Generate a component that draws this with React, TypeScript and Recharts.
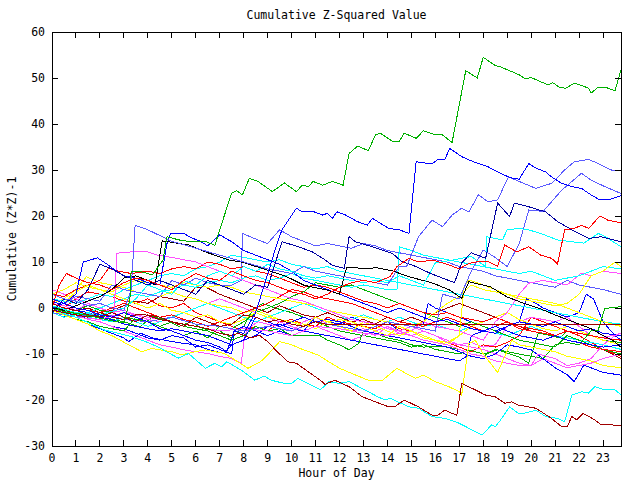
import React from "react";
import { LineChart, Line, XAxis, YAxis, ReferenceArea } from "recharts";

const TITLE = "Cumulative Z-Squared Value";
const X_LABEL = "Hour of Day";
const Y_LABEL = "Cumulative (Z*Z)-1";
const HOUR_TICKS = [0, 1, 2, 3, 4, 5, 6, 7, 8, 9, 10, 11, 12, 13, 14, 15, 16, 17, 18, 19, 20, 21, 22, 23];
const VALUE_TICKS = [-30, -20, -10, 0, 10, 20, 30, 40, 50, 60];
const X_DOMAIN: [number, number] = [0, 23.75];
const Y_DOMAIN: [number, number] = [-30, 60];

type P = [number, number];

const green1: P[] = [[0,0],[0.5,-0.8],[1,-1.2],[1.5,-1.6],[2,-2.2],[2.5,-2.8],[3,-3.2],[3.25,1.7],[3.3,7.9],[3.7,7.9],[4.2,7.2],[4.63,10.4],[4.8,15.5],[5.3,14.8],[5.8,14.4],[6.45,14.4],[6.8,13.6],[7,17],[7.5,25],[7.7,25.5],[7.95,24.6],[8.24,28.2],[8.6,27.5],[9.2,25.3],[9.7,27.2],[10.2,25.3],[10.45,26.7],[10.7,26.4],[10.9,27.5],[11.3,26.7],[11.7,27.5],[12.15,26.7],[12.4,33.6],[12.76,35.2],[13.2,34.2],[13.5,37.6],[13.7,38],[14.2,36.3],[14.5,36.3],[14.7,38],[15.2,36.9],[15.5,38.5],[15.9,37.8],[16.25,37.8],[16.7,36],[17.27,51.6],[17.75,50],[18,54.5],[18.5,52.7],[18.7,52.5],[19,51.8],[19.5,50.7],[19.75,49.8],[20,50.1],[20.7,48.5],[20.9,49],[21.2,47.9],[21.45,47.8],[21.8,48.9],[22.4,47.8],[22.5,46.7],[22.8,48],[23.15,47.9],[23.5,47.2],[23.75,51.8]];
const green2: P[] = [[0,-0.5],[0.5,-1.5],[1,-2.5],[1.5,-3],[2,-4],[2.5,-4.5],[3,-5],[3.5,-2],[4,-3],[4.5,-4],[5,-3],[5.5,-4],[6,-4.5],[6.5,-5],[7,-6],[7.5,-7],[8,-6],[8.5,-4],[9,-5],[9.5,-4.5],[10,-6],[10.5,-6],[11.15,-5.9],[11.5,-7],[12,-8],[12.4,-9.1],[12.8,-7.7],[13,-5],[13.5,-5.5],[14,-6.5],[14.5,-7],[15,-8],[15.5,-8.5],[16,-8.3],[16.5,-8.5],[17,-9],[17.5,-10],[18,-10.5],[18.5,-9],[19,-9.5],[19.5,-10],[20,-10.5],[20.5,-11],[21,-8],[21.5,-7.5],[22,-8],[22.5,-5],[22.8,-4.8],[23.07,-0.1],[23.75,0.3]];
const green3: P[] = [[0,0.5],[0.5,-0.5],[1,-1],[1.5,-2],[2,-1.5],[2.5,-2.5],[3,-3],[3.66,-4.1],[4.2,-1.9],[4.7,-2.5],[5.3,-4],[5.8,-3],[6.3,-4.5],[7,-5],[7.5,-6.5],[8,-4],[8.37,-0.4],[8.8,1],[9.3,0],[10,-1],[10.5,-2],[11,-3],[11.5,-4],[12,-5],[12.5,-5.5],[13,-6],[13.5,-6.5],[14,-7],[14.5,-7.5],[15,-8.5],[15.5,-8],[16,-9],[16.5,-9.5],[17,-10],[17.4,-9.1],[18,-10],[18.6,-9.1],[19.47,-10.6],[19.9,-12],[20.3,-5.4],[20.8,-6],[21.2,-6.5],[21.5,-5],[22,-5.5],[22.5,-6],[23,-7],[23.75,-7.5]];
const green4: P[] = [[0,1],[0.5,0],[1,-0.5],[1.5,0.5],[2,-0.5],[2.5,-1],[3,-2],[3.5,-2.5],[4,-3],[4.5,-4],[5,-5],[5.5,-6],[6,-5],[6.5,-6.5],[7,-4],[7.5,-4.5],[8,-3],[8.5,-1],[9,0],[9.5,1],[10,2.5],[10.5,3.5],[11,5.5],[11.5,5],[12,4.5],[12.5,5],[13,4],[13.5,3],[14,2],[14.5,1],[15,0],[15.5,-1],[16,-2],[16.5,-3],[17,-4],[17.5,-3],[18,-4],[18.5,-5],[19,-6],[19.5,-7],[20,-7.5],[20.5,-8],[21,-8.5],[21.5,-6],[22,-7],[22.5,-8],[23,-9],[23.75,-10]];

const blue1: P[] = [[0,2],[0.5,1],[1,0],[1.5,-0.5],[2,-1.5],[2.5,-2],[3,-1],[3.5,-2],[4,-3],[4.5,-4.5],[5,-5],[5.5,-6],[6,-7],[6.5,-7.5],[7,-8.5],[7.3,-9.5],[7.6,-5],[8,-5.5],[8.5,-1],[9.1,9],[9.35,13.3],[9.6,17],[10.2,21.7],[10.45,20.9],[10.94,20.9],[11.3,20.2],[11.5,20.6],[11.7,19.5],[11.9,20.9],[12.26,20.2],[12.74,18.8],[13.16,18],[13.37,19.5],[14.06,17.3],[14.5,17],[14.9,16.2],[15.2,31.8],[15.6,31.5],[15.86,31.3],[16.1,32.3],[16.4,32.3],[16.6,34.7],[17.1,32.9],[17.4,32.2],[17.8,31.4],[18.2,30.7],[18.6,29.6],[19.05,28.5],[19.26,28.2],[19.5,28],[19.9,31.4],[20.2,30.4],[20.6,29.6],[20.85,28.5],[21.27,27.1],[21.7,26.4],[22.1,26],[22.5,24.6],[22.87,23.5],[23.2,23.5],[23.75,24.4]];
const blue2: P[] = [[0,0],[0.5,1],[1,3],[1.3,10],[1.9,10.9],[2.3,9.5],[2.7,8],[3,7],[3.5,6.5],[4,5.5],[4.5,5],[4.8,14],[4.95,16.2],[5.5,16.2],[5.85,15.2],[6.2,14.5],[6.5,13.5],[7,15.9],[7.5,14.4],[8,12.5],[8.5,11.5],[9,10.5],[9.5,9.5],[10,8],[10.5,6],[11,5],[11.5,4],[12,3],[12.5,2],[13,1],[13.5,0],[14,-1],[14.5,0],[15,-1],[15.5,-2],[16,-3],[16.5,-2.5],[17,-3.5],[17.5,-4.5],[18,-5],[18.5,-4],[19,-5],[19.5,-6],[20,-6.5],[20.5,-7],[21,-6],[21.5,-7],[22,-7.5],[22.5,-8],[23,-8.5],[23.75,-8]];
const blue3: P[] = [[0,1.5],[0.5,0.5],[1,-0.5],[1.5,-1],[2,-2],[2.5,-2.5],[3,-3.5],[3.5,-4],[4,-4.5],[4.5,-5],[5,-4.5],[5.5,-5],[6,-5.5],[6.5,-6],[7,-7],[7.5,-8],[8,-7],[8.5,-2],[9,-3],[9.5,-4],[10,-3],[10.5,-2],[11,-3],[11.5,-2.5],[12,-3],[12.5,-4],[13,-5],[13.5,-5.5],[14,-6],[14.5,-6.5],[15,-7],[15.5,-7.5],[16,-8],[16.5,-8.5],[17,-9.5],[17.5,-10.5],[18,-11],[18.5,-10],[19,-8],[19.5,-8.5],[20,-9.1],[20.5,-11],[21,-13],[21.5,-14.5],[21.8,-16],[22.2,-12.4],[22.5,-13],[23,-14],[23.75,-14.6]];
const blue4: P[] = [[0,-1],[0.5,-2],[1,-1],[1.5,-2.5],[2,-3],[2.5,-4],[3,-4.5],[3.5,-5.5],[4,-6.5],[4.5,-7],[5,-6],[5.5,-6.5],[6,-8.5],[6.5,-8],[7,-9],[7.5,-10],[7.6,-5],[8,-4],[8.5,-5],[9,-6],[9.5,-5],[10,-6],[10.5,-5],[11,-2],[11.5,-3],[12,-3.5],[12.5,-2],[13,-3],[13.5,-4],[14,-3],[14.5,-5],[15,-4],[15.5,-3.5],[15.7,1],[16,0],[16.5,-1],[17,-2],[17.5,-3],[18,-4],[18.5,-5],[19,-4],[19.5,-3],[19.8,2],[20.2,1],[20.5,0],[21,-1],[21.5,-2],[22,-1],[22.3,3],[22.6,2],[23,-3],[23.5,-6],[23.75,-7]];
const blue5: P[] = [[0,0],[0.5,-1.5],[1,-2.5],[1.5,-3.5],[2,-4.5],[2.5,-5.5],[3,-6.5],[3.2,-7.3],[3.7,-5.5],[4.2,-6.5],[4.7,-7],[5.5,-7.7],[6,-8],[6.5,-9],[7.2,-9.9],[7.5,-8],[8,-7],[8.5,-6],[9,-4],[9.5,-3.5],[10,-4.5],[10.5,-5],[11,-5.5],[11.5,-6],[12,-6.5],[12.5,-7],[13,-7.5],[13.5,-8],[14,-8.5],[14.5,-9],[15,-9.5],[15.5,-10],[16,-10.5],[16.5,-11],[17,-11.5],[17.3,-10.5],[17.5,-6],[18,-5],[18.5,-5.5],[19,-4],[19.5,-3],[20,-3.5],[20.5,-4],[21,-3],[21.5,-4],[22,-5],[22.5,-4.5],[23,-5.5],[23.75,-6]];

const lightBlue1: P[] = [[0,3],[0.5,2],[1,1.5],[1.5,0.5],[2,1],[2.5,0],[3,-0.5],[3.3,3.9],[3.47,18],[4,17],[4.6,15.5],[5,14.5],[6,13],[7,11.5],[8,10],[9,8.5],[10,7.5],[10.5,9],[11,8],[12,7],[13,6],[14,5],[14.5,9],[14.8,9],[15.3,15.5],[15.86,19.1],[16.3,17.7],[16.7,20.2],[17.1,21.7],[17.4,20.9],[17.8,24.6],[18.2,23.1],[18.6,23.5],[19.05,28.5],[19.5,27.5],[20.2,26],[20.85,27.1],[21.4,30],[21.8,31.8],[22.4,32.3],[22.8,31.4],[23.35,30],[23.75,30]];
const lightBlue2: P[] = [[0,-1],[1,-2],[2,-1],[3,-2.5],[4,-3],[5,-2],[6,-3.5],[7,-4],[8,-5],[9,-4],[10,-5],[11,-3],[12,-4],[13,-5],[14,-3],[15,-4],[16,-5],[16.3,3],[17,2],[17.5,8],[18,12.6],[18.5,11],[19,9],[19.5,14],[19.9,21.3],[20.5,21],[21.27,25.6],[21.7,27.5],[22.1,29.3],[22.5,27.8],[23.07,26.4],[23.75,24.9]];
const lightBlue3: P[] = [[0,0],[0.5,1],[1,2.5],[1.5,2],[2,1.5],[2.5,5],[3,4],[3.5,3.5],[4,3],[4.5,2.5],[5,6],[5.5,5],[6,6.5],[6.5,5.5],[7,5],[7.5,5],[7.9,6],[7.95,16.2],[8.5,15],[9,14],[9.5,17],[10,15.5],[10.5,14.5],[11,13.5],[11.5,14],[12,13.5],[12.5,13],[13,14],[13.5,13.5],[14,12.5],[14.5,12],[15,11.5],[15.5,11],[16,10.5],[16.5,10],[17,9],[17.5,8.5],[18,8],[18.5,7],[19,6.5],[19.5,6],[20,5.5],[20.5,5],[21,4.5],[21.5,6],[22,5],[22.5,4.5],[23,4],[23.75,3]];
const navy1: P[] = [[0,-1],[0.5,2],[1,1],[1.5,4],[2,9.5],[2.5,8.5],[3,7],[3.5,6],[4,5],[4.5,6],[5,5],[5.5,4],[6,3],[6.5,6],[7,5],[7.5,4],[8,3],[8.5,5],[9,4.5],[9.6,14.4],[10.3,13.3],[10.86,12.2],[11.3,10.8],[11.7,9.3],[12.2,8.6],[12.4,15.5],[12.67,14.4],[13.37,13.3],[14.2,11.9],[14.6,10.1],[15.2,9],[15.8,7.5],[16.3,6.5],[16.8,5.5],[17.1,9.8],[17.5,12],[18.1,10.8],[18.6,22.8],[19.1,19.9],[19.3,22.8],[19.9,22],[20.6,20.9],[21.1,18.8],[21.7,17],[22.4,15.1],[22.9,15.5],[23.75,14.4]];
const black1: P[] = [[0,0],[0.5,-0.5],[1,0.5],[1.5,1.5],[2,2.5],[2.5,4],[3,6.5],[3.5,7],[4,6],[4.3,5],[4.6,14.6],[5.7,13.7],[6.4,12.2],[7.4,10.4],[7.9,10],[8.6,8.9],[9.8,6.8],[10.5,5],[10.8,4.6],[11.5,3.9],[12,3],[12.3,8.9],[13.2,8.5],[13.5,8.8],[14.2,8.1],[14.9,6.8],[15.9,5.4],[16.6,3.9],[17.1,2.1],[17.4,5.7],[18.3,4.6],[19,2.4],[19.7,1],[20.3,0],[21,-1.5],[21.5,-2.5],[22,-3.5],[22.5,-4.5],[23,-6],[23.4,-7],[23.75,-8.5]];

const cyan1: P[] = [[0,0.5],[1,-1],[2,-1.5],[3,0],[3.5,2],[4,5],[4.5,4],[5,3],[5.5,6],[6,5],[6.5,7],[7,8],[7.5,7],[8,9],[8.5,8],[9,9.5],[9.5,8.5],[10,8],[10.5,7],[11,6.5],[11.5,7],[12,6.5],[12.5,6],[13,5.5],[13.5,6],[14,5.5],[14.5,7],[15,6],[15.5,5],[16,9.8],[16.8,10.5],[17.5,11.2],[18.1,9],[18.15,15.5],[18.8,14.8],[19,17],[19.47,17.3],[19.9,17],[20.5,16],[21.1,14.8],[21.7,14.4],[22.2,14.1],[22.8,16.2],[23.1,15.5],[23.75,13.3]];
const cyan2: P[] = [[0,-1],[0.5,-2],[1,-1.5],[1.5,-1],[2,0],[2.5,1],[3,2],[3.5,3],[4,2.5],[4.5,3.5],[5,4],[5.5,5],[6,4.5],[6.5,5.5],[7,6],[7.5,5.5],[8,6.5],[8.5,7],[9,6],[9.5,6.5],[10,7.5],[10.5,6.5],[11,6],[11.5,5.5],[12,5],[12.5,4.5],[13,5],[13.5,4.5],[14,4],[14.4,4],[14.5,13.3],[15,12.5],[15.5,11.5],[16,11],[16.5,10.5],[17,10],[17.5,9.5],[18,9],[18.5,8.5],[19,8],[19.5,7.5],[20,8],[20.5,7],[21,6],[21.5,6.5],[22,7],[22.5,8],[23,9],[23.75,8.5]];
const cyan3: P[] = [[0,0],[0.5,-0.5],[1,-1.5],[1.5,-2],[2,-2.5],[2.5,-3],[3,-2],[3.5,-3],[4,-4],[4.5,-3],[5,-2],[5.5,-1],[6,0],[6.5,1],[7,0],[7.5,-1],[8,-2],[8.5,-3],[9,-2],[9.5,-1],[10,0],[10.5,1],[11,0],[11.5,-1],[12,-2],[12.5,-2.5],[13,-1.5],[13.5,-2.5],[14,-3],[14.5,-2],[15,-3],[15.5,-4],[16,-3.5],[16.5,-4.5],[17,-5],[17.5,-4],[18,-5],[18.5,-5.5],[19,-6],[19.5,-5],[20,-4],[20.5,-5],[21,-6],[21.5,-6.5],[22,-7],[22.5,-7.5],[23,-8],[23.75,-9]];
const cyan4: P[] = [[0,2],[0.5,1.5],[1,1],[1.5,2],[2,3],[2.5,2.5],[3,4],[3.5,5],[4,6],[4.5,7],[5,7.5],[5.5,7],[6,8.5],[6.5,9],[7,10],[7.5,11.5],[8,11],[8.5,10.5],[9,10],[9.5,10.5],[10,9.5],[10.5,9],[11,8.5],[11.5,9],[12,8],[12.5,7.5],[13,7],[13.5,6.5],[14,6],[14.5,5.5],[15,5],[15.5,4.5],[16,4],[16.5,3.5],[17,3],[17.5,2.5],[18,2],[18.5,1.5],[19,1],[19.5,0.5],[20,0],[20.5,-0.5],[21,-1],[21.5,-1.5],[22,-2],[22.5,-2.5],[23,-3],[23.75,-3.5]];
const cyanLow: P[] = [[0,-0.4],[1,-2],[2.2,-4.8],[3.3,-6.2],[3.9,-7.3],[4.4,-8.4],[5.27,-10.9],[5.7,-9.9],[6.4,-13.1],[6.8,-12],[7.07,-12.8],[7.3,-11.7],[7.9,-13.5],[8.46,-15.7],[8.87,-14.8],[9.15,-15.7],[9.7,-16.4],[10,-16.4],[10.26,-15.3],[10.8,-16.7],[11.2,-17.8],[11.56,-16],[11.98,-16.4],[12.4,-16],[13.6,-19.3],[13.9,-20],[14.1,-19.6],[14.9,-21.5],[15.3,-21.8],[15.86,-23.6],[16.4,-24],[16.97,-25],[17.8,-27.2],[17.94,-27.6],[18.36,-25.4],[18.5,-25.8],[18.7,-24.5],[19.1,-21.5],[19.47,-22.9],[19.7,-22.9],[20.2,-22.2],[20.6,-23.6],[21.1,-24],[21.4,-24.7],[21.7,-18.9],[22.1,-18.2],[22.4,-18.5],[22.65,-17.1],[23.07,-17.8],[23.5,-17.8],[23.75,-18.9]];

const red1: P[] = [[0,0],[0.3,5],[0.6,7.5],[1,6.5],[1.5,5.5],[2,5],[2.5,4],[3,5.5],[3.5,6.5],[4,6],[4.5,5],[5,4],[5.5,6],[6,7.5],[6.5,6.5],[7,6],[7.5,8],[8,7],[8.5,6],[9,5.5],[9.5,4.5],[10,3.5],[10.5,3],[11,2],[11.5,3],[12,4.5],[12.5,5.5],[13,6],[13.5,5.5],[14.1,6.8],[14.4,9],[14.9,10.8],[15.3,10],[15.9,10.4],[16.5,9.5],[17,8.5],[17.4,9.7],[17.7,10],[18.2,10.1],[18.6,9.1],[18.9,13.7],[19.4,12.2],[19.9,13.3],[20.4,11.5],[20.85,10.8],[21.1,9.6],[21.4,17],[21.8,17.3],[22.1,18],[22.4,17.3],[22.87,20],[23.2,19.1],[23.75,18.5]];
const red2: P[] = [[0,-1],[0.5,0],[1,2],[1.5,3.5],[2,3],[2.5,2.5],[3,1.5],[3.5,1],[4,2],[4.5,0.5],[5,0],[5.5,1],[6,-1],[6.5,-2],[7,-3],[7.5,-4],[8,-5],[8.5,-4],[9,-5],[9.5,-3],[10,-2.5],[10.5,-3.5],[11,-4],[11.5,-2],[12,-3],[12.5,-3.5],[13,-4],[13.5,-4.5],[14,-3],[14.5,-4.5],[15,-5],[15.5,-6],[16,-7],[16.5,-7.5],[17,-8.5],[17.5,-9.5],[18,-8],[18.5,-8.5],[19,-7.5],[19.5,-6],[20,-2],[20.5,-3],[21,-4],[21.5,-5],[22,-6],[22.5,-7.5],[23,-9],[23.75,-10.5]];
const red3: P[] = [[0,3],[0.5,2.5],[1,4],[1.5,5],[2,6],[2.36,8.6],[2.8,8],[3.3,7.5],[4,8],[4.5,7.5],[5,8.5],[5.5,9],[6,8.5],[6.5,10],[7,9.5],[7.5,8.5],[8,9],[8.5,8],[9,7.5],[9.5,6.5],[10,5.5],[10.5,4.5],[11,5],[11.5,4.5],[12,3.5],[12.5,2.5],[13,1.5],[13.5,1],[14,0],[14.5,1],[15,0],[15.5,-1],[16,-1.5],[16.5,-1],[17,-2],[17.5,-2.5],[18,-3],[18.5,-2],[19,-3],[19.5,-4],[20,-4.5],[20.5,-5],[21,-6],[21.5,-7],[22,-7.5],[22.5,-8.5],[23,-9],[23.75,-9.5]];
const red4: P[] = [[0,2],[0.5,1],[1,0],[1.5,-0.5],[2,-1],[2.5,0],[3,1],[3.5,0],[4,-1],[4.5,-2],[5,-1.5],[5.5,-2.5],[6,-3],[6.5,-4],[7,-3],[7.5,-2],[8,-1],[8.5,0],[9,1],[9.5,2.5],[10,4],[10.5,3.5],[11,2.5],[11.5,2],[12,1.5],[12.5,1],[13,0],[13.5,-1],[14,-2],[14.5,-3],[15,-3.5],[15.5,-4],[16,-3],[16.5,-2],[17,-3],[17.5,-4],[18,-5],[18.5,-4],[19,-3],[19.5,-4.5],[20,-5],[20.5,-5.5],[21,-6],[21.5,-5],[22,-5.5],[22.5,-6],[23,-6.5],[23.75,-7]];

const magenta1: P[] = [[0,1],[0.5,0.5],[1,-0.5],[1.5,1],[2,0],[2.6,-1],[2.7,11.9],[3.3,12.2],[4,12.2],[4.4,11.5],[5,11],[5.5,10.5],[6,10],[6.5,9],[7,8],[7.5,7],[8,6],[8.5,5],[9,4],[9.5,3],[10,2],[10.5,1.5],[11,0.5],[11.5,-0.5],[12,-1.5],[12.5,-2.5],[13,-3],[13.5,-3.5],[14,-4.5],[14.5,-5],[15,-6],[15.5,-7],[16,-7.5],[16.5,-8],[17,-9],[17.5,-10],[18,-10.5],[18.5,-11.5],[19,-12],[19.5,-12.5],[20,-12.5],[20.3,-10],[21,-11],[21.5,-12.5],[22,-12],[22.5,-11],[23,-8],[23.5,-6],[23.75,-5.5]];
const magenta2: P[] = [[0,-1],[1,-2],[2,-2.5],[3,-1],[4,-2],[5,-3],[6,-4],[7,-5],[8,-4.5],[9,-5],[10,-6],[11,-4],[12,-4.5],[13,-5.5],[14,-6],[15,-5],[15.5,-3],[16,-4],[16.5,-4.5],[17,-5],[17.5,-6],[18,-7],[18.5,-3],[19,-1],[19.5,3],[19.9,5.4],[20.5,6],[21,5.5],[21.5,5],[22.1,7.6],[22.5,7],[23,8],[23.75,7.5]];
const magenta3: P[] = [[0,0],[0.5,-1],[1,-1.5],[1.5,-2.5],[2,-3],[2.5,-4],[3,-5],[3.5,-6],[4,-7],[4.5,-8],[5,-8.5],[5.5,-9.1],[6,-9.5],[6.5,-9.9],[7,-10.5],[7.5,-11],[7.9,-12],[8.04,-6.2],[8.18,-4.4],[8.6,-3],[9,-3.5],[9.5,-4],[10,-5],[10.5,-3],[11,-2],[11.5,-3.5],[12,-4],[12.5,-5],[13,-4.5],[13.5,-6],[14,-4],[14.5,-5.5],[15,-6],[15.5,-5],[16,-6],[16.5,-7.5],[17,-8],[17.5,-8.5],[18,-9],[18.5,-10],[19,-11],[19.5,-12],[20,-12.5],[20.5,-11],[21,-12],[21.5,-13],[22,-12.5],[22.5,-12],[23,-11],[23.75,-10]];
const magenta4: P[] = [[0,4],[0.5,3],[1,2],[1.5,1],[2,0],[2.5,-1],[3,-0.5],[3.5,-1.5],[4,-2.5],[4.5,-3],[5,-2],[5.5,-1],[6,0],[6.5,1],[7,2],[7.5,1],[8,0],[8.5,-1],[9,-2],[9.5,-3],[10,-4],[10.5,-5],[11,-4],[11.5,-5],[12,-6],[12.5,-7],[13,-6],[13.5,-5],[14,-4],[14.5,-5],[15,-4],[15.5,-5],[16,-6],[16.5,-7],[17,-8],[17.5,-7.5],[18,-8.5],[18.5,-8],[19,-4],[19.5,-3],[20,-2],[20.5,-2.5],[21,-3],[21.5,-2],[22,-4],[22.5,-6],[23,-6.5],[23.75,-5.5]];

const yellow1: P[] = [[0,-0.5],[0.5,-1.5],[1,-2.5],[1.5,-3.5],[2,-5],[2.5,-6],[3.2,-8],[3.74,-9.5],[4.16,-8.8],[4.4,-9],[5,-9.5],[5.4,-10.2],[6,-9.5],[6.4,-9.1],[7.2,-9.9],[7.7,-11.5],[8.18,-13.1],[8.7,-11.7],[9,-10.2],[9.5,-7.3],[10,-8],[10.5,-9.1],[11.1,-10.2],[11.65,-12],[12,-13.1],[12.5,-14.2],[13.2,-15.7],[13.8,-15.7],[14.4,-13.1],[14.9,-14.6],[15.17,-15.3],[15.5,-14.6],[16,-16],[16.56,-17.1],[17,-18.2],[17.1,-18.9],[17.4,-7.7],[17.67,-7],[18,-10],[18.6,-14],[19.2,-7],[19.5,-8],[20,-8.5],[20.5,-9],[21,-9.5],[21.5,-10.5],[22,-11],[22.5,-11.5],[23,-12.5],[23.75,-13]];
const yellow2: P[] = [[0,2],[0.5,1],[1,3.5],[1.5,5],[2,4],[2.5,3],[3,2],[3.5,1],[4,0],[4.5,1],[5,-0.5],[5.5,-1],[6,-2],[6.5,-1.5],[7,-3],[7.5,-3.5],[8,-2.5],[8.5,-1],[9,-2],[9.5,-2.5],[10,-3],[10.5,-4],[11,-2],[11.5,-3],[12,-4],[12.5,-5],[13,-3],[13.5,-4],[14,-5],[14.5,-6],[15,-5],[15.5,-6.5],[16,-7],[16.5,-7.5],[17,-6],[17.2,4.6],[17.4,6.1],[18,5],[18.5,4],[19,3],[19.5,2],[20,1.5],[20.5,1],[21,0.5],[21.5,1],[22,3],[22.5,7],[23,8],[23.5,10],[23.75,9]];
const yellow3: P[] = [[0,1],[0.5,2],[1,4],[1.44,6.8],[2,5.5],[2.5,5],[3,4.5],[3.5,3.5],[4,3],[4.5,2.5],[5,3.5],[5.5,2.5],[6,2],[6.5,1],[7,0.5],[7.5,0],[8,-1],[8.5,-0.5],[9,-1.5],[9.5,-2.5],[10,-3],[10.5,-3.5],[11,-4.5],[11.5,-3],[12,-2.5],[12.5,-3],[13,-4],[13.5,-5],[14,-6],[14.5,-4],[15,-5],[15.5,-6],[16,-7],[16.5,-8],[17,-6],[17.5,-4],[18,-3],[18.5,-2],[19,-1],[19.5,-2.5],[20,-3.5],[20.5,-4.5],[21,-5],[21.5,-4],[22,-5],[22.5,-6],[23,-7],[23.75,-8]];
const yellow4: P[] = [[0,3],[0.5,4],[1,5.5],[1.5,4.5],[2,4],[2.5,3.5],[3,5],[3.5,6],[4,5.5],[4.5,5],[5,4.5],[5.5,5.5],[6,5],[6.5,4.5],[7,5],[7.5,4.5],[8,3.5],[8.5,3],[9,2.5],[9.5,2],[10,1.5],[10.5,1],[11,0.5],[11.5,-0.5],[12,-1],[12.5,-1.5],[13,-2],[13.5,-2.5],[14,-3],[14.5,-3.5],[15,-4],[15.5,-3],[16,-1],[16.5,1],[17,2.5],[17.5,5],[18,4],[18.5,3.5],[19,3],[19.5,2.5],[20,2],[20.5,1.5],[21,1],[21.5,0],[22,-1],[22.5,-2],[23,-3],[23.75,-4]];

const darkRed1: P[] = [[0,-0.5],[0.5,-1],[1,-1.5],[1.5,-2],[2,-1],[2.5,-2],[3,-2.5],[3.5,-1.5],[3.9,-1.5],[4.5,-2.5],[5,-3],[5.5,-3.5],[6,-4],[6.5,-4.5],[7,-5.5],[7.5,-6],[7.77,-5.5],[8.3,-6.5],[8.65,-5.9],[9,-7.3],[9.4,-9.5],[9.85,-11.7],[10.2,-12],[10.68,-13.8],[11.2,-15.7],[11.4,-16.6],[11.8,-15.7],[12.4,-17.1],[12.95,-19.3],[13.5,-20.4],[14.06,-21.5],[14.3,-21.5],[14.7,-20],[15.3,-21.5],[15.86,-23.3],[16.1,-23.3],[16.4,-22.2],[16.7,-22.9],[16.9,-23.3],[17.1,-16.4],[17.67,-17.8],[18.08,-18.9],[18.5,-19.3],[18.9,-20.7],[19.2,-20.4],[19.47,-21.1],[19.9,-21.5],[20.2,-21.8],[20.85,-24],[21.27,-25.8],[21.5,-25.8],[21.7,-23.6],[21.9,-24.3],[22.17,-22.9],[22.65,-24.3],[22.93,-25.4],[23.35,-25.4],[23.75,-25.6]];
const darkRed2: P[] = [[0,1],[0.5,0],[1,-0.5],[1.5,-1.5],[2,-2],[2.5,-1],[3,-2],[3.5,-3],[4,-1.5],[4.5,-2],[5,-3],[5.5,-4],[6,-2],[6.5,-3],[7,-4],[7.5,-3.5],[8,-1.5],[8.5,-2],[9,-3],[9.5,-2.5],[10,-3.5],[10.5,-4],[11,-3],[11.5,-3.6],[23.75,-3.6]];
const darkRed3: P[] = [[0,0],[0.5,-1],[1,-0.5],[1.5,0],[2,-1],[2.5,-0.5],[3,0.5],[3.5,1.5],[4,1],[4.5,2.5],[5,2],[5.5,1.5],[6,4.5],[6.4,4.6],[7,3],[7.5,2],[8,1],[8.5,0],[9,-1],[9.5,0.5],[10,-0.5],[10.5,-1.5],[11,-2],[11.5,-1],[12,-2],[12.5,-3],[13,-2.5],[13.5,-3.5],[14,-2],[14.5,-3],[15,-2],[15.5,-3],[16,-1],[16.5,0],[17,1],[17.5,0],[18,-1],[18.5,-2],[19,-3],[19.5,-4],[20,-5],[20.5,-5.5],[21,-6],[21.5,-7],[22,-7.5],[22.5,-8],[23,-9],[23.75,-11]];

const RED = "#ff0000";
const GREEN = "#00b000";
const BLUE = "#0000ff";
const LIGHT_BLUE = "#5a5aff";
const NAVY = "#0000a0";
const MAGENTA = "#ff50ff";
const CYAN = "#00ffff";
const DARK_RED = "#a00000";
const YELLOW = "#ffff00";
const BLACK = "#000000";

const SERIES: { name: string; color: string; points: P[] }[] = [
  { name: "r2", color: RED, points: red2 },
  { name: "g3", color: GREEN, points: green3 },
  { name: "b4", color: BLUE, points: blue4 },
  { name: "m4", color: MAGENTA, points: magenta4 },
  { name: "c3", color: CYAN, points: cyan3 },
  { name: "dr3", color: DARK_RED, points: darkRed3 },
  { name: "y3", color: YELLOW, points: yellow3 },
  { name: "r4", color: RED, points: red4 },
  { name: "g4", color: GREEN, points: green4 },
  { name: "b5", color: BLUE, points: blue5 },
  { name: "m3", color: MAGENTA, points: magenta3 },
  { name: "c4", color: CYAN, points: cyan4 },
  { name: "y4", color: YELLOW, points: yellow4 },
  { name: "lb3", color: LIGHT_BLUE, points: lightBlue3 },
  { name: "r3", color: RED, points: red3 },
  { name: "g2", color: GREEN, points: green2 },
  { name: "b3", color: BLUE, points: blue3 },
  { name: "m2", color: MAGENTA, points: magenta2 },
  { name: "c2", color: CYAN, points: cyan2 },
  { name: "y2", color: YELLOW, points: yellow2 },
  { name: "lb2", color: LIGHT_BLUE, points: lightBlue2 },
  { name: "m1", color: MAGENTA, points: magenta1 },
  { name: "b2", color: BLUE, points: blue2 },
  { name: "k1", color: BLACK, points: black1 },
  { name: "c1", color: CYAN, points: cyan1 },
  { name: "n1", color: NAVY, points: navy1 },
  { name: "lb1", color: LIGHT_BLUE, points: lightBlue1 },
  { name: "r1", color: RED, points: red1 },
  { name: "y1", color: YELLOW, points: yellow1 },
  { name: "cl", color: CYAN, points: cyanLow },
  { name: "dr1", color: DARK_RED, points: darkRed1 },
  { name: "dr2", color: DARK_RED, points: darkRed2 },
  { name: "b1", color: BLUE, points: blue1 },
  { name: "g1", color: GREEN, points: green1 },
];

const FONT = "'DejaVu Sans Mono', 'Liberation Mono', monospace";
const FONT_SIZE = 11.5;
const W = 640;
const H = 480;
const M = { top: 32, right: 19, bottom: 33, left: 51 };
const PLOT_TOP = 32;
const PLOT_BOTTOM = 446;
const PLOT_LEFT = 52;
const PLOT_RIGHT = 621;
const TICK = 6;

const renderXTick = (props: any) => {
  const { x, payload } = props;
  return (
    <g key={`xt-${payload.value}`}>
      <line x1={x} y1={PLOT_BOTTOM} x2={x} y2={PLOT_BOTTOM - TICK} stroke="#000" />
      <line x1={x} y1={PLOT_TOP} x2={x} y2={PLOT_TOP + TICK} stroke="#000" />
      <text x={x} y={PLOT_BOTTOM + 16} textAnchor="middle" fontFamily={FONT} fontSize={FONT_SIZE} fill="#000">
        {payload.value}
      </text>
    </g>
  );
};

const renderYTick = (props: any) => {
  const { y, payload } = props;
  return (
    <g key={`yt-${payload.value}`}>
      <line x1={PLOT_LEFT} y1={y} x2={PLOT_LEFT + TICK} y2={y} stroke="#000" />
      <line x1={PLOT_RIGHT} y1={y} x2={PLOT_RIGHT - TICK} y2={y} stroke="#000" />
      <text x={PLOT_LEFT - 7} y={y + 4} textAnchor="end" fontFamily={FONT} fontSize={FONT_SIZE} fill="#000">
        {payload.value}
      </text>
    </g>
  );
};

export default function App() {
  return (
    <div style={{ position: "absolute", left: 0, top: 0, width: W, height: H, background: "#fff" }}>
      <style>{`svg * { shape-rendering: crispEdges; } svg text { shape-rendering: auto; }`}</style>
      <LineChart width={W} height={H} margin={M}>
        <XAxis
          dataKey="h"
          type="number"
          domain={X_DOMAIN}
          ticks={HOUR_TICKS}
          allowDataOverflow
          height={1}
          tickSize={0}
          tickMargin={0}
          tickLine={false}
          axisLine={{ stroke: "#000" }}
          tick={renderXTick}
          interval={0}
        />
        <YAxis
          type="number"
          domain={Y_DOMAIN}
          ticks={VALUE_TICKS}
          allowDataOverflow
          width={1}
          tickSize={0}
          tickMargin={0}
          tickLine={false}
          axisLine={{ stroke: "#000" }}
          tick={renderYTick}
          interval={0}
        />
        <ReferenceArea x1={X_DOMAIN[0]} x2={X_DOMAIN[1]} y1={Y_DOMAIN[0]} y2={Y_DOMAIN[1]} fill="none" stroke="#000" strokeWidth={1} />
        {SERIES.map((s) => (
          <Line
            key={s.name}
            data={s.points.map(([h, v]) => ({ h, v }))}
            dataKey="v"
            type="linear"
            stroke={s.color}
            strokeWidth={1}
            dot={false}
            activeDot={false}
            isAnimationActive={false}
          />
        ))}
      </LineChart>
      <div style={{ position: "absolute", left: 0, top: 0, width: W, height: H, pointerEvents: "none" }}>
        <svg width={W} height={H} style={{ position: "absolute", left: 0, top: 0 }}>
          <text x={(PLOT_LEFT + PLOT_RIGHT) / 2} y={19} textAnchor="middle" fontFamily={FONT} fontSize={FONT_SIZE} fill="#000">{TITLE}</text>
          <text x={(PLOT_LEFT + PLOT_RIGHT) / 2} y={477} textAnchor="middle" fontFamily={FONT} fontSize={FONT_SIZE} fill="#000">{X_LABEL}</text>
          <text x={16} y={(PLOT_TOP + PLOT_BOTTOM) / 2} textAnchor="middle" fontFamily={FONT} fontSize={FONT_SIZE} fill="#000" transform={`rotate(-90 16 ${(PLOT_TOP + PLOT_BOTTOM) / 2})`}>{Y_LABEL}</text>
        </svg>
      </div>
    </div>
  );
}
